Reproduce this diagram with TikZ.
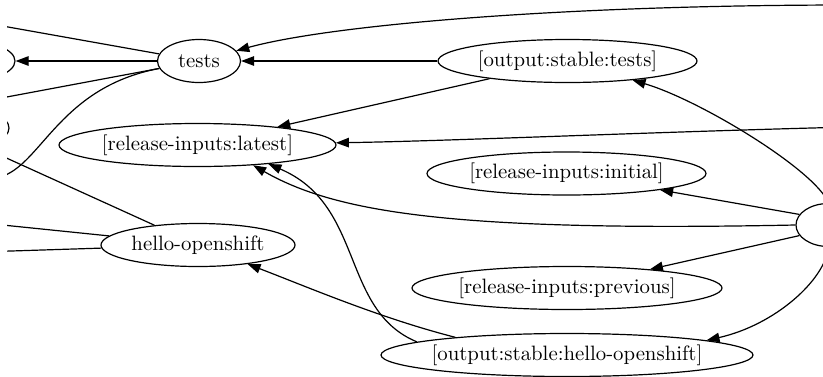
\documentclass[tikz,border=0pt]{standalone}
\usepackage{fontspec}
\usetikzlibrary{shapes.geometric,arrows.meta}
% the 10pt design of Latin Modern, scaled up, for the node labels
\newfontfamily\gvfont{lmroman10-regular}[Extension=.otf]
\newcommand{\gvlabel}[1]{\makebox[0pt]{#1}}
\begin{document}
\begin{tikzpicture}[x=1pt,y=-1pt,
  gvnode/.style={draw, ellipse, line width=1.2pt, inner sep=0pt,
    minimum height=43pt, font=\gvfont\fontsize{20.8}{24}\selectfont},
  gvline/.style={line width=1.2pt},
  gvarrow/.style={gvline, -{Triangle[length=13pt,width=9.5pt]}}]
\useasboundingbox (0,0) rectangle (823,376);
\clip (7,0) rectangle (823,376);

% nodes
\node[gvnode, minimum width=83pt]  (tests) at (199,61)    {\gvlabel{tests}};
\node[gvnode, minimum width=259pt] (ost)   at (567.5,61)  {\gvlabel{[output:stable:tests]}};
\node[gvnode, minimum width=277pt] (ril)   at (197.5,145) {\gvlabel{[release-inputs:latest]}};
\node[gvnode, minimum width=279pt] (rii)   at (566.5,173.5) {\gvlabel{[release-inputs:initial]}};
\node[gvnode, minimum width=194pt] (ho)    at (198,245)   {\gvlabel{hello-openshift}};
\node[gvnode, minimum width=310pt] (rip)   at (567,288)   {\gvlabel{[release-inputs:previous]}};
\node[gvnode, minimum width=372pt] (osh)   at (567,355)   {\gvlabel{[output:stable:hello-openshift]}};
\node[gvnode, minimum width=65pt]  (rn)    at (828.5,225) {};
\node[gvnode, minimum width=110pt] (ln1)   at (-40,61)    {};
\node[gvnode, minimum width=98pt]  (ln2)   at (-40,128)   {};

% ends of edges that leave the drawing
\coordinate (cL1) at (-20,22);
\coordinate (cL2) at (-20,102);
\coordinate (cL3) at (-5,178);
\coordinate (cL4) at (-20,146);
\coordinate (cL5) at (-20,222.7);
\coordinate (cL6) at (-20,252);
\coordinate (cR0) at (850,5);
\coordinate (cR1) at (850,127);

% edges on the left
\draw[gvline]  (tests) -- (cL1);
\draw[gvarrow] (tests) -- (ln1);
\draw[gvline]  (tests) -- (cL2);
\draw[gvline]  (tests) .. controls (55,88) and (40,172) .. (cL3);
\draw[gvline]  (ho) -- (cL4);
\draw[gvline]  (ho) -- (cL5);
\draw[gvline]  (ho) -- (cL6);

% edges on the right
\draw[gvarrow] (cR0) .. controls (560,5) and (330,25) .. (tests);
\draw[gvarrow] (ost) -- (tests);
\draw[gvarrow] (ost) -- (ril);
\draw[gvarrow] (cR1) .. controls (650,132) and (450,141) .. (ril);
\draw[gvarrow] (rn.north) .. controls (815,170) and (700,100) .. (ost);
\draw[gvarrow] (rn.160) -- (rii);
\draw[gvarrow] (rn.west) .. controls (450,232) and (335,212) .. (ril.-20);
\draw[gvarrow] (rn.200) -- (rip);
\draw[gvarrow] (rn.south) .. controls (825,280) and (775,325) .. (osh.6);
\draw[gvarrow] (osh.171) .. controls (380,318) and (310,288) .. (ho);
\draw[gvarrow] (osh.175) .. controls (340,310) and (365,205) .. (ril.-15);
\end{tikzpicture}
\end{document}
